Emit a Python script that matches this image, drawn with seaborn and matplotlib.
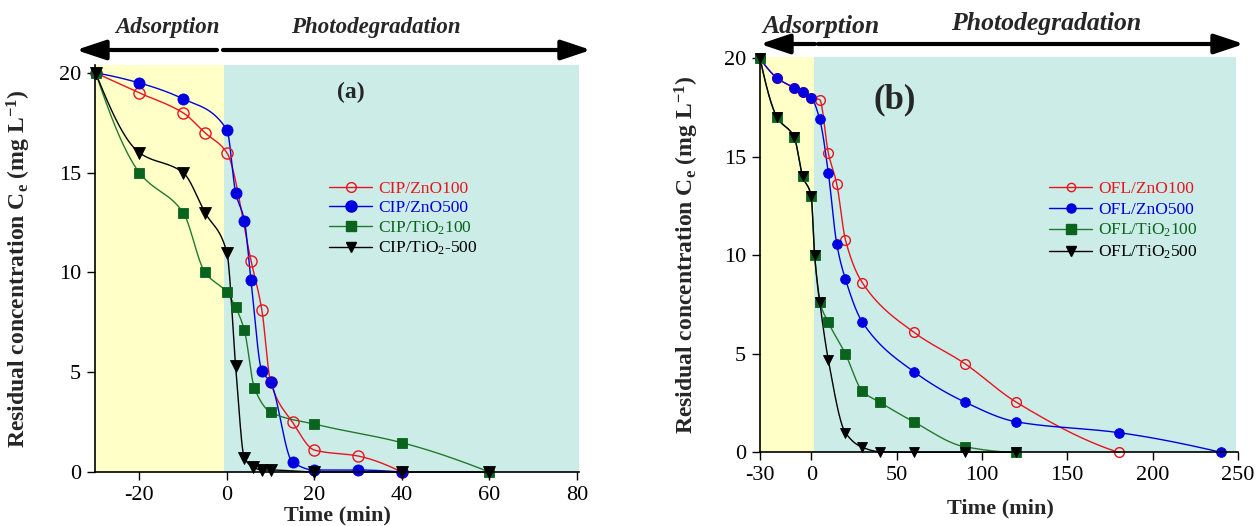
import numpy as np
import pandas as pd
import matplotlib
matplotlib.use("Agg")
import matplotlib.pyplot as plt
from matplotlib.lines import Line2D
from matplotlib.patches import FancyArrowPatch
import seaborn as sns

# ---------------- data ----------------
# Panel (a): CIP
a_zno100_t = [-30, -20, -10, -5, 0, 5.5, 8, 10, 15, 20, 30, 40]
a_zno100_c = [20, 19.0, 18.0, 17.0, 16.0, 10.6, 8.1, 4.5, 2.5, 1.1, 0.8, 0.0]
a_zno500_t = [-30, -20, -10, 0, 2, 4, 5.5, 8, 10, 15, 20, 30, 40]
a_zno500_c = [20, 19.5, 18.7, 17.15, 14.0, 12.6, 9.6, 5.05, 4.5, 0.5, 0.1, 0.1, 0.0]
a_tio100_t = [-30, -20, -10, -5, 0, 2, 4, 6.3, 10, 20, 40, 60]
a_tio100_c = [20, 15.0, 13.0, 10.0, 9.0, 8.25, 7.1, 4.2, 3.0, 2.4, 1.47, 0.0]
a_tio500_t = [-30, -20, -10, -5, 0, 2, 4, 6, 8, 10, 20, 40, 60]
a_tio500_c = [20, 16.0, 15.0, 13.0, 11.0, 5.3, 0.7, 0.25, 0.1, 0.1, 0.0, 0.0, 0.0]
a_labels = ["CIP/ZnO100", "CIP/ZnO500", "CIP/TiO$_2$100", "CIP/TiO$_2$-500"]

# Panel (b): OFL
b_zno100_t = [-30, -20, -10, -5, 0, 5, 10, 15, 20, 30, 60, 90, 120, 180]
b_zno100_c = [20, 19.0, 18.5, 18.27, 18.0, 17.9, 15.2, 13.6, 10.8, 8.6, 6.1, 4.5, 2.55, 0.0]
b_zno500_t = [-30, -20, -10, -5, 0, 5, 10, 15, 20, 30, 60, 90, 120, 180, 240]
b_zno500_c = [20, 19.0, 18.5, 18.27, 18.0, 16.9, 14.2, 10.55, 8.8, 6.6, 4.1, 2.55, 1.55, 1.0, 0.0]
b_tio100_t = [-30, -20, -10, -5, 0, 2, 5, 10, 20, 30, 40, 60, 90, 120]
b_tio100_c = [20, 17.0, 16.0, 14.0, 13.0, 10.0, 7.65, 6.6, 5.0, 3.1, 2.55, 1.55, 0.28, 0.0]
b_tio500_t = [-30, -20, -10, -5, 0, 2, 5, 10, 20, 30, 40, 60, 90, 120]
b_tio500_c = [20, 17.0, 16.0, 14.0, 13.0, 10.0, 7.65, 4.7, 1.0, 0.25, 0.03, 0.0, 0.0, 0.0]
b_labels = ["OFL/ZnO100", "OFL/ZnO500", "OFL/TiO$_2$100", "OFL/TiO$_2$500"]

a_xticks = [-20, 0, 20, 40, 60, 80]
b_xticks = [-30, 0, 50, 100, 150, 200, 250]
yticks = [0, 5, 10, 15, 20]

# ---------------- style ----------------
sns.set_theme(style="ticks")
plt.rcParams["font.family"] = ["Liberation Serif", "DejaVu Serif"]
plt.rcParams["mathtext.fontset"] = "custom"
plt.rcParams["mathtext.rm"] = "Liberation Serif"
plt.rcParams["mathtext.bf"] = "Liberation Serif:bold"
plt.rcParams["mathtext.it"] = "Liberation Serif:italic"
plt.rcParams["mathtext.default"] = "rm"
plt.rcParams["axes.unicode_minus"] = False

RED = "#E8141E"
BLUE = "#0000E0"
GREEN = "#0A641E"
GREEN_LINE = "#237A2C"
BLACK = "#000000"
YELLOW = "#FFFFC8"
CYAN = "#CCECE8"


def pchip(x, y, xn):
    x = np.asarray(x, float)
    y = np.asarray(y, float)
    h = np.diff(x)
    d = np.diff(y) / h
    n = len(x)
    m = np.zeros(n)
    for k in range(1, n - 1):
        if d[k - 1] * d[k] > 0:
            w1 = 2 * h[k] + h[k - 1]
            w2 = h[k] + 2 * h[k - 1]
            m[k] = (w1 + w2) / (w1 / d[k - 1] + w2 / d[k])
    def end(h0, h1, d0, d1):
        v = ((2 * h0 + h1) * d0 - h0 * d1) / (h0 + h1)
        if np.sign(v) != np.sign(d0):
            v = 0.0
        elif np.sign(d0) != np.sign(d1) and abs(v) > abs(3 * d0):
            v = 3 * d0
        return v
    m[0] = end(h[0], h[1], d[0], d[1])
    m[-1] = end(h[-1], h[-2], d[-1], d[-2])
    idx = np.clip(np.searchsorted(x, xn) - 1, 0, n - 2)
    t = (xn - x[idx]) / h[idx]
    h00 = 2 * t**3 - 3 * t**2 + 1
    h10 = t**3 - 2 * t**2 + t
    h01 = -2 * t**3 + 3 * t**2
    h11 = t**3 - t**2
    return h00 * y[idx] + h10 * h[idx] * m[idx] + h01 * y[idx + 1] + h11 * h[idx] * m[idx + 1]


def draw_series(ax, t, c, color, lcolor, marker, ms, open_marker=False):
    t = np.asarray(t, float)
    c = np.asarray(c, float)
    xs = np.linspace(t[0], t[-1], 600)
    ys = pchip(t, c, xs)
    sns.lineplot(x=xs, y=ys, ax=ax, color=lcolor, lw=1.0, estimator=None,
                 sort=False, clip_on=False, zorder=3)
    face = "none" if open_marker else color
    sns.lineplot(x=t, y=c, ax=ax, estimator=None, sort=False, linestyle="",
                 marker=marker, markersize=ms, markerfacecolor=face,
                 markeredgecolor=color, markeredgewidth=1.0 if open_marker else 0.6,
                 color=color, clip_on=False, zorder=4)


fig = plt.figure(figsize=(12.57, 5.26), dpi=100)
W, H = 1257.0, 526.0

axA = fig.add_axes([95 / W, 1 - 472 / H, 484 / W, 407 / H])
axB = fig.add_axes([760 / W, 1 - 452.3 / H, 478 / W, 395.6 / H])

# ---------- panel (a) ----------
axA.set_xlim(-30.16, 80.5)
axA.set_ylim(0, 20.4)
axA.axvspan(-30.16, -0.7, color=YELLOW, lw=0, zorder=0)
axA.axvspan(-0.7, 80.5, color=CYAN, lw=0, zorder=0)
draw_series(axA, a_zno100_t, a_zno100_c, RED, RED, "o", 8, open_marker=True)
draw_series(axA, a_zno500_t, a_zno500_c, BLUE, BLUE, "o", 8)
draw_series(axA, a_tio100_t, a_tio100_c, GREEN, GREEN_LINE, "s", 7)
draw_series(axA, a_tio500_t, a_tio500_c, BLACK, BLACK, "v", 8)
axA.set_xticks(a_xticks)
axA.set_yticks(yticks)
axA.text(28.4, 19.0, "(a)", fontsize=17, fontweight="bold", ha="center", va="center")

# ---------- panel (b) ----------
axB.set_xlim(-30, 250)
axB.set_ylim(0, 20.08)
axB.axvspan(-30, 1.8, color=YELLOW, lw=0, zorder=0)
axB.axvspan(1.8, 249, color=CYAN, lw=0, zorder=0)
draw_series(axB, b_zno100_t, b_zno100_c, RED, RED, "o", 7, open_marker=True)
draw_series(axB, b_zno500_t, b_zno500_c, BLUE, BLUE, "o", 7)
draw_series(axB, b_tio100_t, b_tio100_c, GREEN, GREEN_LINE, "s", 7)
draw_series(axB, b_tio500_t, b_tio500_c, BLACK, BLACK, "v", 7)
axB.set_xticks(b_xticks)
axB.set_yticks(yticks)
axB.text(49, 17.9, "(b)", fontsize=25, fontweight="bold", ha="center", va="center")

ylab = r"Residual concentration C$_\mathbf{e}$ (mg L$^\mathbf{-1}$)"
for ax, lx, ly, xly in [(axA, -0.128, -0.082, 0.5), (axB, -0.124, -0.116, 0.502)]:
    for s in ["top", "right"]:
        ax.spines[s].set_visible(False)
    for s in ["left", "bottom"]:
        ax.spines[s].set_color("black")
        ax.spines[s].set_linewidth(1.2)
        ax.spines[s].set_zorder(5)
    ax.tick_params(direction="out", length=6, width=1.0, color="black",
                   labelsize=16, pad=4, labelcolor="black")
    ax.set_xlabel("Time (min)", fontsize=16, fontweight="bold")
    ax.set_ylabel(ylab, fontsize=17, fontweight="bold")
    ax.yaxis.set_label_coords(lx, 0.5)
    ax.xaxis.set_label_coords(xly, ly)
    ax.grid(False)


def legend(ax, labels, anchor, markers, sizes, spacing):
    colors = [RED, BLUE, GREEN, BLACK]
    lcols = [RED, BLUE, GREEN_LINE, BLACK]
    handles = []
    for i in range(4):
        face = "none" if i == 0 else colors[i]
        handles.append(Line2D([], [], color=lcols[i], lw=1.0, marker=markers[i],
                              markersize=sizes[i], markerfacecolor=face,
                              markeredgecolor=colors[i]))
    leg = fig.legend(handles, labels, loc="upper left",
                     bbox_to_anchor=(anchor[0] / W, 1 - anchor[1] / H),
                     frameon=False, fontsize=12.5, handlelength=2.5,
                     handletextpad=0.35, labelspacing=spacing, borderpad=0,
                     borderaxespad=0)
    for txt, col in zip(leg.get_texts(), colors):
        txt.set_color(col)


legend(axA, a_labels, (329, 181), ["o", "o", "s", "v"], [7, 8, 7, 7], 0.18)
legend(axB, b_labels, (1049, 181), ["o", "o", "s", "v"], [6, 6.5, 7, 6.5], 0.25)


def fig_arrow(x0, x1, y):
    arr = FancyArrowPatch((x0 / W, 1 - y / H), (x1 / W, 1 - y / H),
                          transform=fig.transFigure,
                          arrowstyle="-|>,head_length=0.9,head_width=0.3",
                          mutation_scale=20, lw=3, color="black",
                          shrinkA=0, shrinkB=0)
    fig.add_artist(arr)


# panel (a) phase arrows and labels
fig_arrow(217, 76, 50)
fig_arrow(223, 591, 50)
fig.text(167 / W, 1 - 33 / H, "Adsorption", fontsize=16.5, fontweight="bold",
         fontstyle="italic", ha="center", va="baseline")
fig.text(376 / W, 1 - 33 / H, "Photodegradation", fontsize=16.5, fontweight="bold",
         fontstyle="italic", ha="center", va="baseline")

# panel (b) phase arrows and labels
fig_arrow(815, 760, 44)
fig_arrow(818, 1244, 44)
fig.text(821 / W, 1 - 33 / H, "Adsorption", fontsize=18.5, fontweight="bold",
         fontstyle="italic", ha="center", va="baseline")
fig.text(1046 / W, 1 - 30 / H, "Photodegradation", fontsize=18.5, fontweight="bold",
         fontstyle="italic", ha="center", va="baseline")

fig.savefig("out.png", dpi=100)
